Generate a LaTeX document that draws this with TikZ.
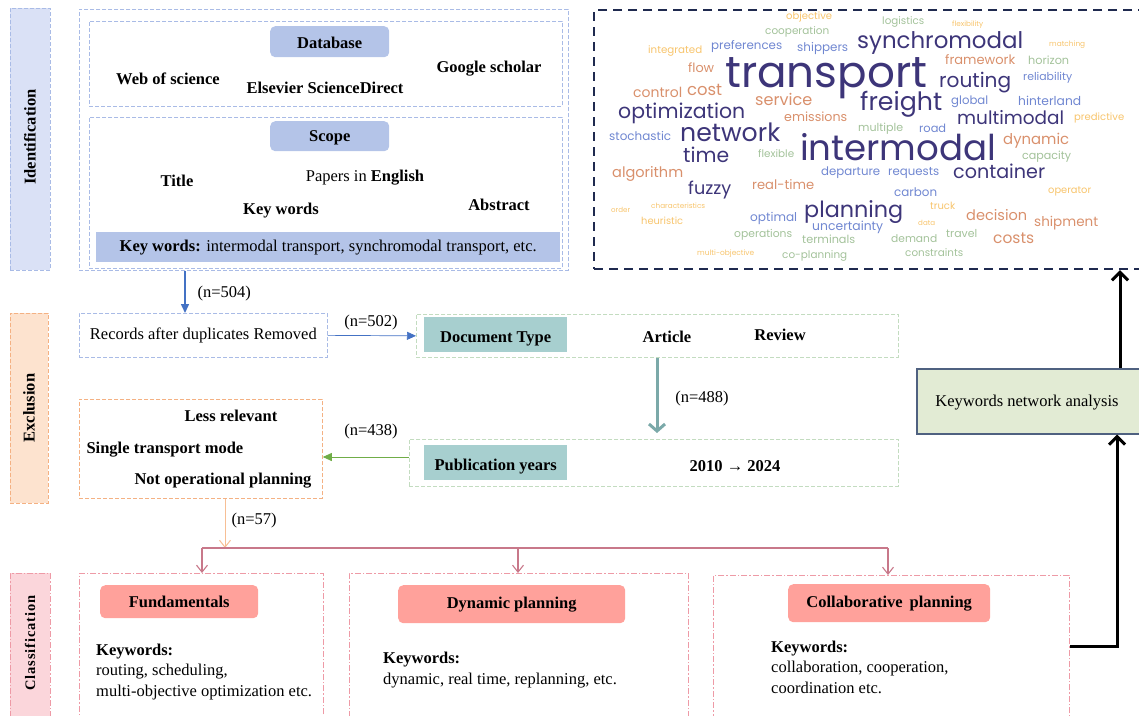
\documentclass[tikz,border=0pt]{standalone}
\usepackage{fontspec}
\setmainfont{Liberation Serif}
\newfontfamily\wcfont{Poppins}
\usetikzlibrary{arrows.meta,calc}
\definecolor{idside}{HTML}{DAE1F6}
\definecolor{idline}{HTML}{A9BBE6}
\definecolor{exside}{HTML}{FDE3CF}
\definecolor{exline}{HTML}{F4B183}
\definecolor{clside}{HTML}{FBD6DB}
\definecolor{clline}{HTML}{EE9AA6}
\definecolor{lblue}{HTML}{B4C4E8}
\definecolor{teal}{HTML}{A7CFCF}
\definecolor{gline}{HTML}{C3DCC0}
\definecolor{salmon}{HTML}{FFA19B}
\definecolor{knafill}{HTML}{E2EBD4}
\definecolor{knaline}{HTML}{4F6180}
\definecolor{wcline}{HTML}{1F2A4F}
\definecolor{cN}{HTML}{3D3579}
\definecolor{cO}{HTML}{D9906C}
\definecolor{cG}{HTML}{A3C29A}
\definecolor{cB}{HTML}{7087D1}
\definecolor{cY}{HTML}{F7C46C}
\definecolor{a504}{HTML}{4472C4}
\definecolor{a438}{HTML}{70AD47}
\definecolor{a488}{HTML}{7BA9A9}
\definecolor{a57}{HTML}{F7BF95}
\definecolor{abr}{HTML}{C8788A}
\newcommand\bx[7]{\node[box,#2,minimum width=#5pt,minimum height=#6pt] (#1) at (#3,#4) {#7};}
\newcommand\wc[5]{\node[anchor=base west,inner sep=0pt,text=c#4] (w-#5) at (#1,#2) {\resizebox{#3pt}{!}{\wcfont #5}};}
\newcommand\dnshift[2]{\raisebox{-#1}[\height][\depth]{#2}}
\begin{document}
\begin{tikzpicture}[x=1pt,y=-1pt,font=\fontsize{16.5}{20.5}\selectfont,
  box/.style={inner sep=0pt,anchor=north west},
  idbox/.style={draw=idline,dash pattern=on 4pt off 2pt,line width=0.7pt},
  gbox/.style={draw=gline,dash pattern=on 4pt off 2pt,line width=0.7pt},
  exbox/.style={draw=exline,dash pattern=on 4pt off 2pt,line width=0.8pt},
  clbox/.style={draw=clline,dash pattern=on 6pt off 2pt on 1.5pt off 2pt,line width=0.8pt},
  rlbl/.style={rounded corners=5pt},
  arrA/.style={draw=a504,line width=1.5pt,-{Triangle[length=9pt,width=8pt]}},
  arrB/.style={draw=a504,line width=0.7pt,-{Triangle[length=9pt,width=8pt]}},
  arrC/.style={draw=a438,line width=0.9pt,-{Triangle[length=9pt,width=8pt]}},
  arrD/.style={draw=a488,line width=3pt,-{Straight Barb[length=7pt,width=16pt]}},
  arrE/.style={draw=a57,line width=1pt,-{Straight Barb[length=7pt,width=11pt]}},
  arrF/.style={draw=abr,line width=1.1pt,-{Straight Barb[length=7pt,width=11pt]}},
  arrK/.style={draw=black,line width=3pt,-{Straight Barb[length=8pt,width=16pt]}},
]
\useasboundingbox (0,0) rectangle (1139,715);
% sidebars
\bx{sid1}{fill=idside,idbox}{10}{8}{40}{262}{}
\bx{sid2}{fill=exside,exbox}{10}{313}{38}{190}{}
\bx{sid3}{fill=clside,clbox}{10}{573}{40}{150}{}
\node[rotate=90,font=\fontsize{16.5}{20}\bfseries] (idtxt) at (30,137) {Identification};
\node[rotate=90,font=\fontsize{16.5}{20}\bfseries] (extxt) at (29,408) {Exclusion};
\node[rotate=90,font=\fontsize{14.5}{18}\bfseries\addfontfeature{LetterSpace=6}] (cltxt) at (30,643) {Classification};
% identification
\bx{idout}{idbox}{79}{9}{489}{261}{}
\bx{dbbox}{idbox}{89}{21}{473}{85}{}
\bx{scbox}{idbox}{89}{117}{473}{151}{}
\bx{dblbl}{fill=lblue,rlbl}{270}{26}{119}{31}{\bfseries\dnshift{1pt}{Database}}
\bx{sclbl}{fill=lblue,rlbl}{270}{121}{119}{30}{\bfseries\dnshift{2pt}{Scope}}
\node (wos) at (168,79) {\bfseries Web of science};
\node (esd) at (325,88) {\bfseries Elsevier ScienceDirect};
\node (gs) at (489,69) {\bfseries Google scholar};
\node (title) at (177,181) {\bfseries Title};
\node (pie) at (365,178) {Papers in \textbf{English}};
\node (kwd) at (281,211) {\bfseries Key words};
\node (abs) at (499,205) {\bfseries Abstract};
\bx{kwbar}{fill=lblue}{96}{232}{464}{30}{\textbf{Key words:} intermodal transport, synchromodal transport, etc.}
% exclusion
\bx{rec}{idbox}{79}{313}{248}{44}{Records after duplicates Removed}
\bx{doc}{gbox}{416}{314}{482}{43}{}
\bx{doclbl}{fill=teal}{424}{317}{143}{35}{\bfseries\dnshift{4pt}{Document Type}}
\node (art) at (667,337) {\bfseries Article};
\node (rev) at (780,335) {\bfseries Review};
\bx{pub}{gbox}{409}{439}{489}{47}{}
\bx{publbl}{fill=teal}{424}{445}{143}{35}{\bfseries\dnshift{4pt}{Publication years}}
\node (yrs) at (735,466) {\bfseries 2010 → 2024};
\bx{excl}{exbox}{79}{399}{243}{99}{}
\node (lr) at (231,416) {\bfseries Less relevant};
\node[anchor=west] (stm) at (83,450) {\bfseries Single transport mode};
\node[anchor=east] (nop) at (315,481) {\bfseries Not operational planning};
% arrows & labels
\draw[arrA] (idout.south -| 185,0) -- (rec.north -| 185,0);
\node[anchor=west] (n504) at (194,294) {(n=504)};
\draw[arrB] (rec.east) -- (doc.west);
\node (n502) at (371,323) {(n=502)};
\draw[arrD] (doc.south -| 657,0) -- ($(pub.north -| 657,0)+(0,-6)$);
\node (n488) at (702,399) {(n=488)};
\draw[arrC] (pub.west |- 0,457) -- (excl.east |- 0,457);
\node (n438) at (371,432) {(n=438)};
\coordinate (brc) at (225,548);
\draw[arrE] (excl.south -| brc) -- (brc);
\node[anchor=west] (n57) at (228,521) {(n=57)};
% classification
\bx{fund}{clbox}{79}{573}{244}{150}{}
\bx{dyn}{clbox}{349}{573}{339}{150}{}
\bx{col}{clbox}{713}{575}{356}{150}{}
\draw[abr,line width=1.1pt] (202,548) -- (888,548);
\draw[arrF] (202,548) -- (fund.north -| 202,0);
\draw[arrF] (518,548) -- (dyn.north -| 518,0);
\draw[arrF] (888,548) -- (col.north -| 888,0);
\bx{fundlbl}{fill=salmon,rlbl}{100}{585}{158}{33}{\bfseries Fundamentals}
\bx{dynlbl}{fill=salmon,rlbl}{398}{585}{227}{38}{\bfseries Dynamic planning}
\bx{collbl}{fill=salmon,rlbl}{788}{584}{202}{38}{\bfseries Collaborative\, planning}
\node[anchor=west,align=left,inner sep=0pt] (fundkw) at (96,672) {\textbf{Keywords:}\\routing, scheduling,\\multi-objective optimization etc.};
\node[anchor=west,align=left,inner sep=0pt] (dynkw) at (383,670) {\textbf{Keywords:}\\dynamic, real time, replanning, etc.};
\node[anchor=west,align=left,inner sep=0pt] (colkw) at (771,667) {\textbf{Keywords:}\\collaboration, cooperation,\\coordination etc.};
% keyword analysis
\bx{kna}{fill=knafill,draw=knaline,line width=1.5pt}{916}{368}{226}{65}{}
\node (knat) at (1027,403) {Keywords network analysis};
\bx{wcb}{draw=wcline,line width=2.2pt,dash pattern=on 9pt off 6pt}{593}{9}{552}{259}{}
\draw[arrK] (col.east |- 0,646) -- (1117,646) -- (kna.south -| 1117,0);
\draw[arrK] (kna.north -| 1120,0) -- (wcb.south -| 1120,0);
% word cloud
\wc{786}{19}{46}{Y}{objective}
\wc{882}{24}{42}{G}{logistics}
\wc{952}{26}{31}{Y}{flexibility}
\wc{765}{34}{64}{G}{cooperation}
\wc{648}{53}{54}{Y}{integrated}
\wc{711}{49}{71}{B}{preferences}
\wc{797}{51}{51}{B}{shippers}
\wc{857}{48}{166}{N}{synchromodal}
\wc{1049}{46}{36}{Y}{matching}
\wc{725}{87}{202}{N}{transport}
\wc{945}{64}{70}{O}{framework}
\wc{1028}{64}{41}{G}{horizon}
\wc{688}{72}{26}{O}{flow}
\wc{939}{87}{72}{N}{routing}
\wc{1023}{80}{49}{B}{reliability}
\wc{687}{95}{35}{O}{cost}
\wc{633}{97}{49}{O}{control}
\wc{755}{105}{57}{O}{service}
\wc{860}{110}{82}{N}{freight}
\wc{951}{104}{37}{B}{global}
\wc{1018}{105}{63}{B}{hinterland}
\wc{618}{118}{127}{N}{optimization}
\wc{784}{121}{63}{O}{emissions}
\wc{957}{124}{107}{N}{multimodal}
\wc{1074}{120}{50}{Y}{predictive}
\wc{858}{131}{45}{G}{multiple}
\wc{919}{132}{27}{B}{road}
\wc{609}{140}{62}{B}{stochastic}
\wc{680}{141}{100}{N}{network}
\wc{800}{160}{196}{N}{intermodal}
\wc{1003}{144}{66}{O}{dynamic}
\wc{683}{162}{46}{N}{time}
\wc{758}{157}{36}{G}{flexible}
\wc{1022}{159}{49}{G}{capacity}
\wc{612}{177}{71}{O}{algorithm}
\wc{821}{175}{59}{B}{departure}
\wc{888}{175}{51}{B}{requests}
\wc{953}{178}{92}{N}{container}
\wc{688}{194}{43}{N}{fuzzy}
\wc{752}{189}{62}{O}{real-time}
\wc{894}{196}{43}{B}{carbon}
\wc{1048}{193}{43}{Y}{operator}
\wc{611}{212}{19}{Y}{order}
\wc{651}{208}{54}{Y}{characteristics}
\wc{804}{217}{99}{N}{planning}
\wc{930}{209}{25}{Y}{truck}
\wc{966}{220}{61}{O}{decision}
\wc{641}{224}{42}{Y}{heuristic}
\wc{750}{221}{47}{B}{optimal}
\wc{918}{225}{17}{Y}{data}
\wc{812}{230}{71}{B}{uncertainty}
\wc{1034}{226}{64}{O}{shipment}
\wc{734}{237}{58}{G}{operations}
\wc{802}{243}{53}{G}{terminals}
\wc{891}{242}{46}{G}{demand}
\wc{946}{237}{31}{G}{travel}
\wc{993}{243}{41}{O}{costs}
\wc{697}{255}{57}{Y}{multi-objective}
\wc{782}{258}{65}{G}{co-planning}
\wc{905}{256}{58}{G}{constraints}
\end{tikzpicture}
\end{document}
